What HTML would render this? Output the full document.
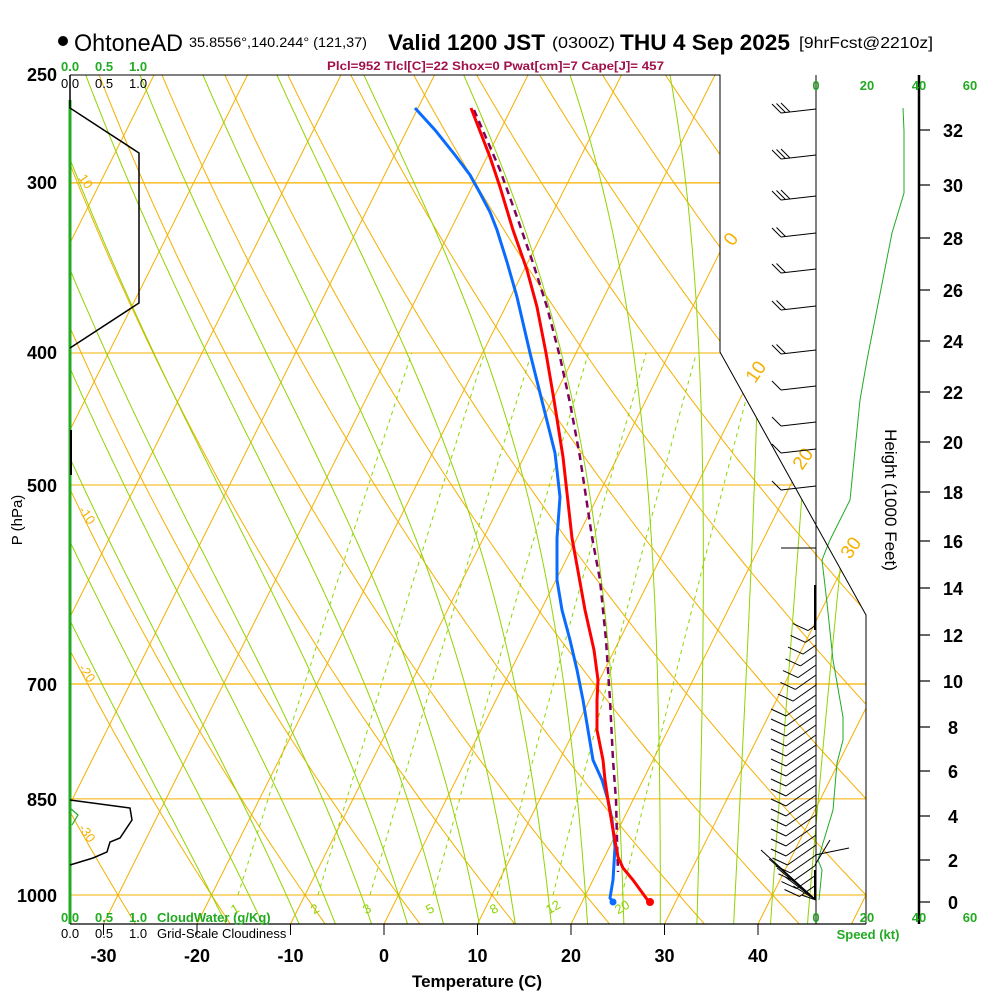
<!DOCTYPE html>
<html><head><meta charset="utf-8">
<style>
html,body{margin:0;padding:0;background:#fff;}
svg{display:block;font-family:"Liberation Sans",sans-serif;}
</style></head>
<body>
<svg id="s" width="1000" height="1000" viewBox="0 0 1000 1000" xmlns="http://www.w3.org/2000/svg">
<defs>
<clipPath id="cp"><polygon points="70,75 720,75 720,352 866,615 866,924 70,924"/></clipPath>
</defs>
<g id="grid" clip-path="url(#cp)"></g>
<g id="prof"></g>
<g id="misc"></g>
<polyline points="70,75 720,75 720,352 866,615 866,924" fill="none" stroke="#000" stroke-width="1"/>
<line x1="70" y1="924" x2="866" y2="924" stroke="#000" stroke-width="1.2"/>
<line x1="816" y1="75" x2="816" y2="924" stroke="#000" stroke-width="1"/>
<line x1="919" y1="75" x2="919" y2="924" stroke="#000" stroke-width="2.5"/>
<circle cx="63" cy="41" r="5" fill="#000"/>
<text x="74" y="51" font-size="24" textLength="109" lengthAdjust="spacingAndGlyphs">OhtoneAD</text>
<text x="189" y="47" font-size="14" textLength="178" lengthAdjust="spacingAndGlyphs">35.8556°,140.244° (121,37)</text>
<text x="388" y="50" font-size="22" font-weight="bold" textLength="157" lengthAdjust="spacingAndGlyphs">Valid 1200 JST</text>
<text x="552" y="48" font-size="16" textLength="63" lengthAdjust="spacingAndGlyphs">(0300Z)</text>
<text x="620" y="50" font-size="22" font-weight="bold" textLength="170" lengthAdjust="spacingAndGlyphs">THU 4 Sep 2025</text>
<text x="799" y="48" font-size="16" textLength="134" lengthAdjust="spacingAndGlyphs">[9hrFcst@2210z]</text>
<text x="327" y="70" font-size="12" font-weight="bold" fill="#a0104a" textLength="337" lengthAdjust="spacingAndGlyphs">Plcl=952 Tlcl[C]=22 Shox=0 Pwat[cm]=7 Cape[J]= 457</text>
<g font-size="13" font-weight="bold" fill="#22aa22"><text x="61" y="71">0.0</text><text x="95" y="71">0.5</text><text x="129" y="71">1.0</text></g>
<g font-size="13" fill="#000"><text x="61" y="88">0.0</text><text x="95" y="88">0.5</text><text x="129" y="88">1.0</text></g>
<g font-size="13" font-weight="bold" fill="#22aa22"><text x="61" y="922">0.0</text><text x="95" y="922">0.5</text><text x="129" y="922">1.0</text><text x="157" y="922">CloudWater (g/Kg)</text></g>
<g font-size="13" fill="#000"><text x="61" y="938">0.0</text><text x="95" y="938">0.5</text><text x="129" y="938">1.0</text><text x="157" y="938">Grid-Scale Cloudiness</text></g>
<g font-size="13" font-weight="bold" fill="#22aa22" text-anchor="middle"><text x="816" y="90">0</text><text x="867" y="90">20</text><text x="919" y="90">40</text><text x="970" y="90">60</text>
<text x="816" y="922">0</text><text x="867" y="922">20</text><text x="919" y="922">40</text><text x="970" y="922">60</text>
<text x="868" y="939">Speed (kt)</text></g>
<g font-size="18" font-weight="bold" text-anchor="end">
<text x="57" y="81">250</text><text x="57" y="189">300</text><text x="57" y="359">400</text><text x="57" y="492">500</text><text x="57" y="691">700</text><text x="57" y="806">850</text><text x="57" y="902">1000</text></g>
<text transform="translate(22,520) rotate(-90)" font-size="15" text-anchor="middle">P (hPa)</text>
<text transform="translate(885,500) rotate(90)" font-size="17" text-anchor="middle">Height (1000 Feet)</text>
<g id="hax"></g>
<g id="tax"></g>
<text x="477" y="987" font-size="17" font-weight="bold" text-anchor="middle">Temperature (C)</text>
</svg>
<script>
var NS="http://www.w3.org/2000/svg";
function X(T,y){return 384+9.35*T+0.5*(924-y);}
function Y(p){return 895-591.5*Math.log(1000/p);}
function el(parent,tag,attrs,txt){var e=document.createElementNS(NS,tag);for(var k in attrs)e.setAttribute(k,attrs[k]);if(txt!==undefined)e.textContent=txt;document.getElementById(parent).appendChild(e);return e;}
function pl(parent,pts,attrs){attrs.points=pts.map(function(p){return p[0].toFixed(1)+","+p[1].toFixed(1)}).join(" ");attrs.fill="none";return el(parent,"polyline",attrs);}
var OR="#f5b000";
[250,300,400,500,700,850,1000].forEach(function(p){var y=Y(p);el("grid","line",{x1:70,y1:y,x2:870,y2:y,stroke:OR,"stroke-width":(p==300||p==700)?1.3:1});});
for(var T=-130;T<=60;T+=10){el("grid","line",{x1:X(T,924),y1:924,x2:X(T,75),y2:75,stroke:OR,"stroke-width":1});}
for(var T0=-60;T0<=220;T0+=10){var pts=[];for(var p=1060;p>=245;p-=10){var t=(T0+273.15)*Math.pow(p/1000,0.2857)-273.15;var y=Y(p);pts.push([X(t,y),y]);}pl("grid",pts,{stroke:OR,"stroke-width":1});}
function es(t){return 6.112*Math.exp(17.67*t/(t+243.5));}
function dTdp(t,p){var TK=t+273.15,e=es(t),rs=0.622*e/(p-e),Lv=2.5e6,Rd=287,Cp=1005;return (Rd*TK+Lv*rs)/(p*(Cp+Lv*Lv*rs*0.622/(Rd*TK*TK)));}
var GM="#8fd400";
for(var tw=-20;tw<=44;tw+=4){var up=[],t=tw,p=1000;for(;p>=245;p-=2){var y=Y(p);up.push([X(t,y),y]);t-=dTdp(t,p)*2;}
var dn=[];t=tw;for(p=1000;p<=1062;p+=2){var y=Y(p);dn.push([X(t,y),y]);t+=dTdp(t,p)*2;}
pl("grid",dn.reverse().concat(up),{stroke:GM,"stroke-width":1});}
var mr=[[1,238,"1"],[2,318,"2"],[3,370,"3"],[5,433,"5"],[8,497,"8"],[12,553,"12"],[20,622,"20"]];
mr.forEach(function(m){var y0=Y(1000);var Td=(m[1]-X(0,y0))/9.35;var e=es(Td);var w=0.622*e/(1000-e);var pts=[];for(var p=1000;p>=400;p-=10){var ee=w*p/(0.622+w);var a=Math.log(ee/6.112);var t=243.5*a/(17.67-a);var y=Y(p);pts.push([X(t,y),y]);}
pl("grid",pts,{stroke:GM,"stroke-width":1,"stroke-dasharray":"4,4"});
el("grid","text",{x:m[1]-6,y:915,"font-size":13,fill:GM,transform:"rotate(-30 "+(m[1]-6)+" 911)"},m[2]);});
[["10",78,178],["-10",78,510],["-20",78,668],["-30",78,828]].forEach(function(l){el("grid","text",{x:l[1],y:l[2],"font-size":13,fill:OR,transform:"rotate(55 "+l[1]+" "+l[2]+")"},l[0]);});
[["0",733,247],["10",755,384],["20",802,471],["30",850,560]].forEach(function(l){el("misc","text",{x:l[1],y:l[2],"font-size":19,fill:OR,transform:"rotate(-55 "+l[1]+" "+l[2]+")"},l[0]);});
pl("misc",[[70,100],[70,924]],{stroke:"#22aa22","stroke-width":3});
pl("misc",[[70,75],[70,108],[139,153],[139,303],[70,348]],{stroke:"#000","stroke-width":1.5});
pl("misc",[[71,430],[71,475]],{stroke:"#000","stroke-width":2});
pl("misc",[[70,800],[130,808],[132,820],[120,838],[110,842],[107,852],[93,858],[70,865]],{stroke:"#000","stroke-width":1.5});
pl("misc",[[70,808],[78,815],[72,825]],{stroke:"#22aa22","stroke-width":1.2});
var par=[[474,110],[500,170],[517,217],[533,263],[547,307],[560,357],[570,403],[580,457],[592,537],[600,580],[606,640],[610,700],[613,760],[616,800],[617,840],[618,872]];
pl("prof",par,{stroke:"#800060","stroke-width":2.5,"stroke-dasharray":"7,5"});
var dew=[[415,108],[435,130],[455,155],[470,175],[480,193],[490,212],[497,230],[507,262],[517,297],[530,353],[545,413],[555,453],[560,497],[557,538],[557,580],[562,610],[570,640],[577,670],[583,700],[588,730],[593,760],[602,780],[608,800],[612,820],[615,847],[613,880],[610,898],[613,902]];
pl("prof",dew,{stroke:"#0a6cff","stroke-width":3});
el("prof","circle",{cx:613,cy:902,r:3.5,fill:"#0a6cff"});
var tmp=[[471,108],[490,157],[500,187],[513,230],[527,270],[537,307],[546,353],[554,400],[563,457],[572,538],[576,560],[585,610],[594,650],[598,680],[597,700],[597,730],[603,760],[605,780],[608,800],[613,830],[618,857],[623,868],[633,880],[649,902]];
pl("prof",tmp,{stroke:"#ff0000","stroke-width":3});
el("prof","circle",{cx:650,cy:902,r:4,fill:"#ff0000"});
pl("misc",[[903,108],[904,131],[904,193],[892,233],[867,360],[860,400],[855,450],[850,500],[830,540],[822,560],[827,603],[833,660],[843,717],[843,740],[837,763],[833,810],[823,843],[818,860],[822,870],[819,900]],{stroke:"#22aa22","stroke-width":1});
[[109,3],[155,3],[196,3],[233,2],[269,2],[306,2],[350,2],[386,1],[422,1],[449,1],[486,1],[548,0]].forEach(function(b){var y=b[0];var tx=781,ty=y+4;if(b[1]==0){tx=781;ty=y;}
pl("misc",[[816,y],[tx,ty]],{stroke:"#000","stroke-width":1});
for(var i=0;i<b[1];i++){var sx=tx+i*4.5,sy=ty-i*0.5;pl("misc",[[sx,sy],[sx-9,sy-9]],{stroke:"#000","stroke-width":1});}});
for(var y=625;y<=890;y+=10){var L;if(y<690)L=8+(y-625)*0.25;else if(y<840)L=30;else L=30-(y-840)*0.3;
var ex=816-L,ey=y+L*0.7;pl("misc",[[816,y],[ex,ey]],{stroke:"#000","stroke-width":1});
pl("misc",[[ex,ey],[ex-15,ey-7]],{stroke:"#000","stroke-width":1});}
for(var y=850;y<=895;y+=9){pl("misc",[[816,900],[816-(900-y)*0.9-10,y]],{stroke:"#000","stroke-width":1});}
pl("misc",[[815,585],[815,630]],{stroke:"#000","stroke-width":2});
pl("misc",[[815,870],[815,900]],{stroke:"#000","stroke-width":2});
pl("misc",[[815,855],[849,848]],{stroke:"#000","stroke-width":1});
pl("misc",[[815,865],[830,840]],{stroke:"#000","stroke-width":1});
[[0,902],[2,860],[4,816],[6,771],[8,727],[10,681],[12,635],[14,588],[16,541],[18,492],[20,442],[22,392],[24,341],[26,290],[28,238],[30,185],[32,130]].forEach(function(h){el("hax","line",{x1:919,y1:h[1],x2:930,y2:h[1],stroke:"#000","stroke-width":1.2});el("hax","text",{x:953,y:h[1]+7,"font-size":18,"font-weight":"bold","text-anchor":"middle"},String(h[0]));});
for(var T=-30;T<=40;T+=10){var x=X(T,924);el("tax","line",{x1:x,y1:924,x2:x,y2:935,stroke:"#000","stroke-width":1});el("tax","text",{x:x,y:962,"font-size":18,"font-weight":"bold","text-anchor":"middle"},String(T));}
</script>
</body></html>
